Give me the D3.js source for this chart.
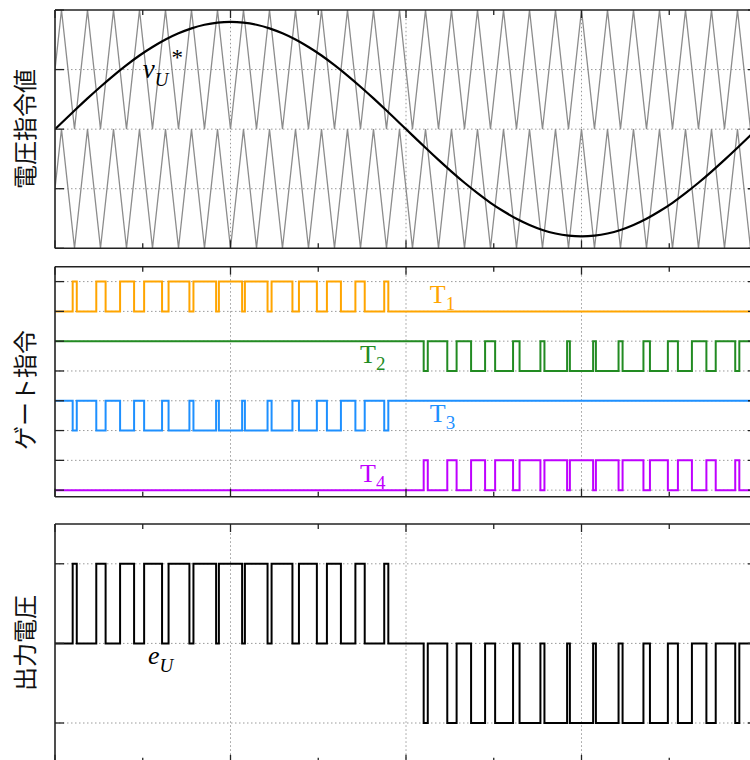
<!DOCTYPE html>
<html>
<head>
<meta charset="utf-8">
<style>
  body { margin: 0; background: #fff; }
  svg { display: block; font-family: "Liberation Serif", serif; }
  .grid line { stroke: #9a9a9a; stroke-width: 1; stroke-dasharray: 1.5,2.5; }
  .frame line { stroke: #222; stroke-width: 1.6; }
  .tick { stroke: #222; stroke-width: 1.3; }
  .ylab { font-family: "Noto Sans CJK JP", sans-serif; font-size: 24px; fill: #111; }
</style>
</head>
<body>
<svg width="750" height="760"></svg>
<script src="https://cdn.jsdelivr.net/npm/d3@7"></script>
<script>
// time axis in ms (one period of the reference)
var xMajor = [0, 5, 10, 15, 20];
var xMinor = [2.5, 7.5, 12.5, 17.5];

// carrier vertices: upper carrier 0..1, lower carrier is the same shifted by -1
var carrierT = [0, 0.185, 0.556, 0.926, 1.296, 1.667, 2.037, 2.407, 2.778, 3.148, 3.519, 3.889, 4.259, 4.630,
  5.000, 5.370, 5.741, 6.111, 6.481, 6.852, 7.222, 7.593, 7.963, 8.333, 8.704, 9.074, 9.444, 9.815,
  10.185, 10.556, 10.926, 11.296, 11.667, 12.037, 12.407, 12.778, 13.148, 13.519, 13.889, 14.259, 14.630,
  15.000, 15.370, 15.741, 16.111, 16.481, 16.852, 17.222, 17.593, 17.963, 18.333, 18.704, 19.074, 19.444,
  19.815, 20.185];
var carrierV = [0.5, 1, 0, 1, 0, 1, 0, 1, 0, 1, 0, 1, 0, 1, 0, 1, 0, 1, 0, 1, 0, 1, 0, 1, 0, 1, 0, 1,
  0, 1, 0, 1, 0, 1, 0, 1, 0, 1, 0, 1, 0, 1, 0, 1, 0, 1, 0, 1, 0, 1, 0, 1, 0, 1, 0, 1];
// voltage reference v_U* read at the same instants
var refV = [0, 0.052, 0.156, 0.258, 0.356, 0.450, 0.537, 0.618, 0.689, 0.752, 0.804, 0.846, 0.876, 0.894,
  0.900, 0.894, 0.876, 0.846, 0.804, 0.752, 0.689, 0.618, 0.537, 0.450, 0.356, 0.258, 0.156, 0.052,
  -0.052, -0.156, -0.258, -0.356, -0.450, -0.537, -0.618, -0.689, -0.752, -0.804, -0.846, -0.876, -0.894,
  -0.900, -0.894, -0.876, -0.846, -0.804, -0.752, -0.689, -0.618, -0.537, -0.450, -0.356, -0.258, -0.156,
  -0.052, 0.052];

var refTicks = [-1, -0.5, 0, 0.5, 1];
var gateTicks = [0, 1, 2, 3, 4, 5, 6, 7];
var outTicks = [-1, 0, 1];

var gateSub = ["1", "2", "3", "4"];
var gateColors = ["#ffa500", "#228b22", "#1e90ff", "#bf00ff"];
var gateBase = [6, 4, 2, 0];
var yLabels = ["電圧指令値", "ゲート指令", "出力電圧"];

var svg = d3.select("svg");

var x = d3.scaleLinear().domain([0, 20]).range([55, 757]);
var yRef = d3.scaleLinear().domain([-1, 1]).range([248.3, 10]);
var yGate = d3.scaleLinear().domain([-0.22, 7.5]).range([496.7, 266.7]);
var yOut = d3.scaleLinear().domain([-1.5, 1.5]).range([762.8, 524]);

// gate = 1 while the reference is above the (shifted) carrier
function gate(offset) {
  var pts = [], n = carrierT.length;
  var s = refV[0] > carrierV[0] + offset ? 1 : 0;
  pts.push([carrierT[0], s]);
  for (var i = 0; i < n - 1; i++) {
    var d0 = refV[i] - carrierV[i] - offset,
        d1 = refV[i + 1] - carrierV[i + 1] - offset;
    if ((d0 > 0) != (d1 > 0)) {
      var t = carrierT[i] + (carrierT[i + 1] - carrierT[i]) * d0 / (d0 - d1);
      s = d1 > 0 ? 1 : 0;
      pts.push([t, s]);
    }
  }
  pts.push([carrierT[n - 1], s]);
  return pts;
}
function invert(pts) { return pts.map(function (p) { return [p[0], 1 - p[1]]; }); }
function stateAt(pts, t) {
  var s = pts[0][1];
  pts.forEach(function (p) { if (p[0] <= t) s = p[1]; });
  return s;
}

var g1 = gate(0), g2 = gate(-1);
var gates = [g1, g2, invert(g1), invert(g2)];
var times = g1.concat(g2).map(function (p) { return p[0]; }).sort(d3.ascending);
var eU = times.map(function (t) { return [t, stateAt(g1, t) + stateAt(g2, t) - 1]; });

var defs = svg.append("defs");

function panel(y, yTicks, label, labelY, id) {
  var y0 = y.range()[0], y1 = y.range()[1];
  defs.append("clipPath").attr("id", id)
    .append("rect").attr("x", x(0)).attr("y", y1).attr("width", x(20) - x(0)).attr("height", y0 - y1);

  var grid = svg.append("g").attr("class", "grid");
  grid.selectAll(".h").data(yTicks.filter(function (d) { return d > y.domain()[0] && d < y.domain()[1]; }))
    .enter().append("line")
    .attr("x1", x(0)).attr("x2", x(20)).attr("y1", y).attr("y2", y);
  grid.selectAll(".v").data(xMajor.slice(1, -1))
    .enter().append("line")
    .attr("x1", x).attr("x2", x).attr("y1", y0).attr("y2", y1);

  var g = svg.append("g").attr("clip-path", "url(#" + id + ")");

  svg.append("text").attr("class", "ylab")
    .attr("transform", "translate(23," + labelY + ") rotate(-90)")
    .attr("text-anchor", "middle").attr("dominant-baseline", "central")
    .text(label);
  return g;
}

function frame(y, yTicks) {
  var y0 = y.range()[0], y1 = y.range()[1];
  var f = svg.append("g").attr("class", "frame");
  f.append("line").attr("x1", x(0)).attr("x2", x(20)).attr("y1", y1).attr("y2", y1);
  f.append("line").attr("x1", x(0)).attr("x2", x(20)).attr("y1", y0).attr("y2", y0);
  f.append("line").attr("x1", x(0)).attr("x2", x(0)).attr("y1", y0).attr("y2", y1);
  f.append("line").attr("x1", x(20)).attr("x2", x(20)).attr("y1", y0).attr("y2", y1);

  var t = svg.append("g");
  yTicks.forEach(function (d) {
    t.append("line").attr("class", "tick").attr("x1", x(0)).attr("x2", x(0) + 9).attr("y1", y(d)).attr("y2", y(d));
    t.append("line").attr("class", "tick").attr("x1", x(20)).attr("x2", x(20) - 9).attr("y1", y(d)).attr("y2", y(d));
  });
  [[xMajor, 8], [xMinor, 5]].forEach(function (m) {
    m[0].forEach(function (d) {
      t.append("line").attr("class", "tick").attr("x1", x(d)).attr("x2", x(d)).attr("y1", y1).attr("y2", y1 + m[1]);
      t.append("line").attr("class", "tick").attr("x1", x(d)).attr("x2", x(d)).attr("y1", y0).attr("y2", y0 - m[1]);
    });
  });
}

// ---- top: reference and carriers
var gTop = panel(yRef, refTicks, yLabels[0], 129, "c1");
var carrierLine = d3.line().x(function (d, i) { return x(carrierT[i]); });
gTop.append("path")
  .attr("d", carrierLine.y(function (d) { return yRef(d); })(carrierV))
  .attr("fill", "none").attr("stroke", "#8c8c8c").attr("stroke-width", 1.3);
gTop.append("path")
  .attr("d", carrierLine.y(function (d) { return yRef(d - 1); })(carrierV))
  .attr("fill", "none").attr("stroke", "#8c8c8c").attr("stroke-width", 1.3);
gTop.append("path")
  .attr("d", d3.line().curve(d3.curveNatural)
    .x(function (d, i) { return x(carrierT[i]); })
    .y(function (d) { return yRef(d); })(refV))
  .attr("fill", "none").attr("stroke", "#000").attr("stroke-width", 2.2);
frame(yRef, refTicks);

var vlab = svg.append("text").attr("x", x(2.5)).attr("y", yRef(0.43))
  .attr("font-size", 27).attr("font-style", "italic");
vlab.append("tspan").text("v");
vlab.append("tspan").attr("dy", 8).attr("font-size", 19).text("U");
vlab.append("tspan").attr("dy", -21).attr("dx", 3).attr("font-size", 23).attr("font-style", "normal").text("*");

// ---- middle: gate commands
var gMid = panel(yGate, gateTicks, yLabels[1], 390, "c2");
var step = d3.line().curve(d3.curveStepAfter);
gates.forEach(function (pts, k) {
  gMid.append("path")
    .attr("d", step.x(function (p) { return x(p[0]); })
      .y(function (p) { return yGate(gateBase[k] + p[1]); })(pts))
    .attr("fill", "none").attr("stroke", gateColors[k]).attr("stroke-width", 2);
});
frame(yGate, gateTicks);

var labT = [10.68, 8.69, 10.68, 8.69];
gateSub.forEach(function (s, k) {
  var t = svg.append("text").attr("x", x(labT[k])).attr("y", yGate(gateBase[k] + 0.28))
    .attr("font-size", 26).attr("fill", gateColors[k]);
  t.append("tspan").text("T");
  t.append("tspan").attr("dy", 7).attr("font-size", 19).text(s);
});

// ---- bottom: output voltage
var gBot = panel(yOut, outTicks, yLabels[2], 643, "c3");
gBot.append("path")
  .attr("d", step.x(function (p) { return x(p[0]); }).y(function (p) { return yOut(p[1]); })(eU))
  .attr("fill", "none").attr("stroke", "#000").attr("stroke-width", 2);
frame(yOut, outTicks);

var elab = svg.append("text").attr("x", x(2.65)).attr("y", yOut(-0.26))
  .attr("font-size", 26).attr("font-style", "italic");
elab.append("tspan").text("e");
elab.append("tspan").attr("dy", 8).attr("font-size", 19).text("U");
</script>
</body>
</html>
